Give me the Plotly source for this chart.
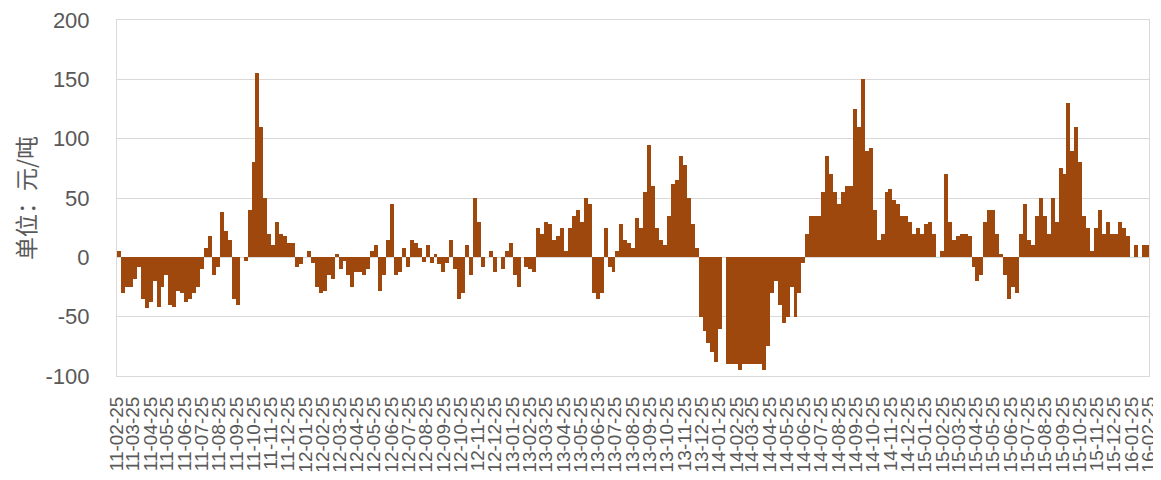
import pandas as pd
import plotly.graph_objects as go

# Weekly spread values (元/吨), one per week starting 2011-02-25
values = [
    5, -30, -25, -25, -18, -8, -35, -43, -38, -20,
    -42, -25, -15, -40, -42, -28, -30, -38, -35, -30,
    -25, -10, 8, 18, -15, -8, 38, 22, 15, -35,
    -40, 0, -3, 40, 80, 155, 110, 50, 20, 10,
    30, 20, 18, 12, 12, -8, -6, 0, 5, -5,
    -25, -30, -28, -15, -18, 3, -10, -3, -15, -25,
    -12, -12, -15, -10, 5, 10, -28, -15, 15, 45,
    -15, -12, 8, -8, 15, 12, 8, -4, 10, -5,
    3, -6, -12, -5, 15, -10, -35, -30, 10, -15,
    50, 30, -8, 0, 5, -12, 0, -10, 5, 12,
    -15, -25, 0, -8, -10, -12, 25, 20, 30, 28,
    15, 18, 25, 5, 25, 35, 40, 30, 50, 45,
    -30, -35, -30, 25, -8, -12, 5, 28, 15, 12,
    8, 33, 25, 55, 95, 60, 25, 15, 10, 35,
    62, 65, 85, 78, 50, 28, 8, -50, -62, -72,
    -80, -88, -60, 0, -90, -90, -90, -95, -90, -90,
    -90, -90, -90, -95, -75, -30, -20, -40, -55, -50,
    -25, -50, -30, -5, 20, 35, 35, 35, 55, 85,
    70, 55, 45, 55, 60, 60, 125, 110, 150, 90,
    92, 40, 15, 20, 55, 58, 48, 45, 35, 35,
    30, 20, 25, 20, 28, 30, 20, 0, 5, 70,
    30, 15, 18, 20, 20, 18, -8, -20, -15, 30,
    40, 40, 20, 3, -15, -35, -25, -30, 20, 45,
    15, 10, 35, 50, 35, 20, 50, 30, 75, 70,
    130, 90, 110, 80, 35, 25, 5, 25, 40, 20,
    30, 20, 20, 30, 25, 18, 0, 10, 0, 10,
    10,
]
start_date = "2011-02-25"
end_date = "2016-02-25"
week_dates = pd.date_range(start_date, periods=len(values), freq="7D")

y_ticks = [-100, -50, 0, 50, 100, 150, 200]
y_tick_text = ["-100", "-50", "0", "50", "100", "150", "200"]
y_title = "单位：元/吨"

bar_color = "#9E480E"
grid_color = "#D9D9D9"
text_color = "#595959"

fig = go.Figure()
fig.add_trace(go.Bar(
    x=week_dates,
    y=values,
    width=[7 * 24 * 3600 * 1000] * len(values),
    offset=0,
    marker=dict(color=bar_color, line=dict(width=0)),
    hoverinfo="x+y",
))

# page body adds an 8px margin, so the figure is 8px smaller on each axis
fig.update_layout(
    width=1153, height=472,
    margin=dict(l=109, r=12, t=12, b=104, autoexpand=False),
    paper_bgcolor="white", plot_bgcolor="white",
    showlegend=False,
    bargap=0,
    font=dict(family="Liberation Sans, Arial, sans-serif", color=text_color),
)
fig.update_xaxes(
    type="date",
    automargin=False,
    range=[start_date, end_date],
    tick0=start_date, dtick="M1",
    tickformat="%y-%m-%d",
    tickangle=-90,
    tickfont=dict(size=19, color=text_color),
    showgrid=False,
    showline=True, linecolor=grid_color, linewidth=1, mirror=True,
    ticks="",
    ticklabelstandoff=12,
    ticklabeloverflow="allow",
)
fig.update_yaxes(
    automargin=False,
    range=[-100, 200],
    tickvals=y_ticks, ticktext=y_tick_text,
    tickfont=dict(size=22, color=text_color),
    showgrid=True, gridcolor=grid_color, gridwidth=1,
    zeroline=True, zerolinecolor=grid_color, zerolinewidth=1,
    showline=True, linecolor=grid_color, linewidth=1, mirror=True,
    ticks="",
    ticklabelstandoff=22,
    ticklabeloverflow="allow",
    title=dict(text=y_title, font=dict(family="Noto Sans CJK SC", size=23, color=text_color), standoff=10),
)

fig.write_html("out.html")
